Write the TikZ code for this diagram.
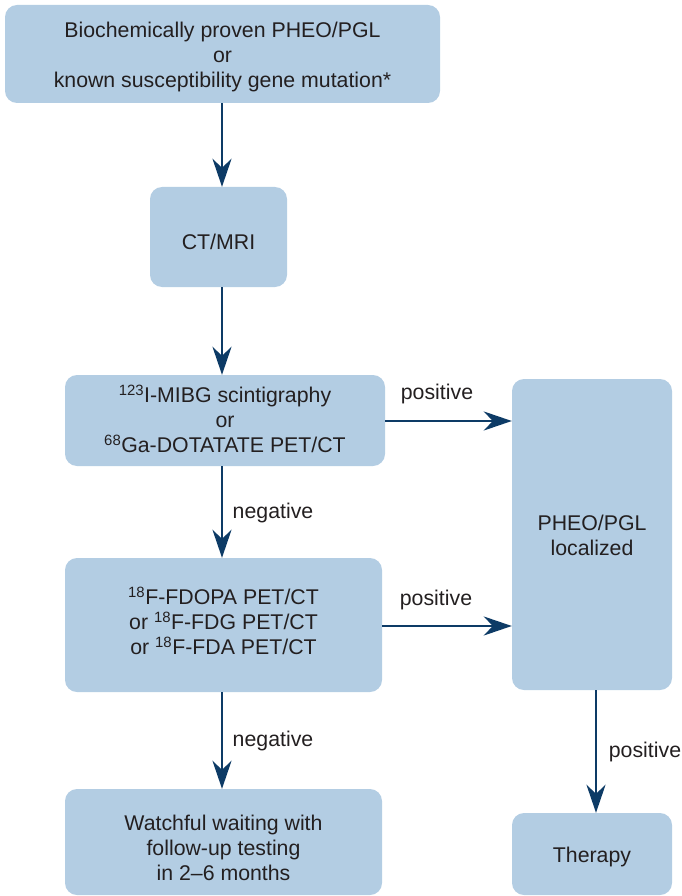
\documentclass[tikz,border=0pt]{standalone}
\usepackage{fontspec}
\setmainfont{Liberation Sans}
\usetikzlibrary{arrows.meta}
\definecolor{boxfill}{HTML}{B3CDE3}
\definecolor{arrowblue}{HTML}{0D3B66}
\definecolor{txt}{HTML}{231F20}
\begin{document}
\begin{tikzpicture}[x=1pt,y=-1pt,
  font=\fontsize{21.3}{25}\selectfont, text=txt,
  box/.style={fill=boxfill, draw=none, rounded corners=12pt, inner sep=0pt},
  boxtext/.style={align=center, inner sep=0pt},
  flow/.style={arrowblue, line width=2.6pt,
    -{Stealth[length=28pt,width=19pt,inset=9pt]}},
  lbl/.style={text=txt, inner sep=0pt}]
\useasboundingbox (0,0) rectangle (681,896);

% boxes
\node[box, minimum width=435pt, minimum height=98pt] (start) at (222.5,54) {};
\node[box, minimum width=137pt, minimum height=100pt] (ct) at (218.5,237) {};
\node[box, minimum width=320pt, minimum height=91pt] (mibg) at (225,420.5) {};
\node[box, minimum width=317pt, minimum height=134pt] (pet) at (223.5,625) {};
\node[box, minimum width=317pt, minimum height=106pt] (wait) at (223.5,842) {};
\node[box, minimum width=160pt, minimum height=311pt] (loc) at (592,534.5) {};
\node[box, minimum width=160pt, minimum height=82pt] (ther) at (592,854) {};

% box texts
\node[boxtext] (start-t) at (222.5,57)
  {Biochemically proven PHEO/PGL\\or\\known susceptibility gene mutation*};
\node[boxtext] (ct-t) at (218.5,242) {CT/MRI};
\node[boxtext] (mibg-t) at (225,419)
  {\textsuperscript{123}I-MIBG scintigraphy\\or\\\textsuperscript{68}Ga-DOTATATE PET/CT};
\node[boxtext] (pet-t) at (223.5,621)
  {\textsuperscript{18}F-FDOPA PET/CT\\or \textsuperscript{18}F-FDG PET/CT\\or \textsuperscript{18}F-FDA PET/CT};
\node[boxtext] (wait-t) at (223.5,848)
  {Watchful waiting with\\follow-up testing\\in 2--6 months};
\node[boxtext] (loc-t) at (592,535) {PHEO/PGL\\localized};
\node[boxtext] (ther-t) at (592,857) {Therapy};

% connectors
\coordinate (a1) at (222,103);
\draw[flow] (a1) -- (a1 |- ct.north);
\coordinate (a2) at (222,287);
\draw[flow] (a2) -- (a2 |- mibg.north);
\coordinate (a3) at (222,466);
\draw[flow] (a3) -- (a3 |- pet.north);
\coordinate (a4) at (222,692);
\draw[flow] (a4) -- (a4 |- wait.north);
\coordinate (a5) at (596,690);
\draw[flow] (a5) -- (a5 |- ther.north);
\coordinate (h1) at (385,421);
\draw[flow] (h1) -- (h1 -| loc.west);
\coordinate (h2) at (382,626);
\draw[flow] (h2) -- (h2 -| loc.west);

% connector labels
\node[lbl] (l1) at (437,394) {positive};
\node[lbl] (l2) at (436,600) {positive};
\node[lbl] (l3) at (273,513) {negative};
\node[lbl] (l4) at (273,741) {negative};
\node[lbl] (l5) at (645,752) {positive};
\end{tikzpicture}
\end{document}
